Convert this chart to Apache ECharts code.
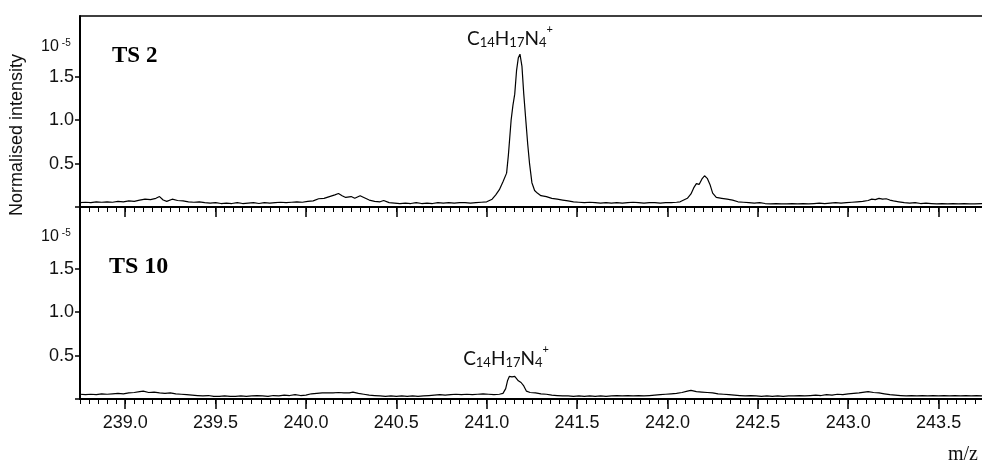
<!DOCTYPE html>
<html>
<head>
<title>ms-peaks</title>
<meta charset="utf-8">
<script type="text/javascript" src="https://cdn.jsdelivr.net/npm/echarts@6/dist/echarts.min.js"></script>
</head>
<body style="margin:0">
	<div id="main" style="width: 982px; height: 461px; margin: 0px"></div>
</body>
<script>
	// m/z range shown on the x axis
	var mzMin = 238.75;
	var mzMax = 243.74;
	var majorTicks = [239.0, 239.5, 240.0, 240.5, 241.0, 241.5, 242.0, 242.5, 243.0, 243.5];
	var yTicks = [0, 0.5, 1.0, 1.5];
	var yLabels = [0.5, 1.0, 1.5];
	var peakLabel = '{main|C}{sub|14}{main|H}{sub|17}{main|N}{sub|4}{sup|+}';

	// TS 2 spectrum: [m/z, intensity x1e-5]
	var ts2 = [
		[238.75,0.05],[238.78,0.055],[238.81,0.05],[238.84,0.06],[238.87,0.055],[238.90,0.06],[238.93,0.055],[238.96,0.065],
		[238.99,0.06],[239.02,0.07],[239.05,0.065],[239.08,0.08],[239.11,0.09],[239.14,0.085],[239.17,0.1],[239.19,0.12],
		[239.21,0.08],[239.23,0.065],[239.26,0.09],[239.29,0.075],[239.32,0.07],[239.35,0.06],[239.38,0.055],[239.41,0.06],
		[239.44,0.05],[239.47,0.045],[239.50,0.05],[239.53,0.04],[239.56,0.045],[239.59,0.04],[239.62,0.05],[239.65,0.04],
		[239.68,0.045],[239.71,0.05],[239.74,0.04],[239.77,0.05],[239.80,0.045],[239.83,0.05],[239.86,0.055],[239.89,0.05],
		[239.92,0.055],[239.95,0.06],[239.98,0.055],[240.01,0.065],[240.04,0.07],[240.07,0.095],[240.10,0.1],[240.13,0.12],
		[240.16,0.14],[240.18,0.155],[240.20,0.13],[240.22,0.11],[240.25,0.12],[240.27,0.1],[240.30,0.13],[240.32,0.11],
		[240.35,0.08],[240.38,0.065],[240.41,0.06],[240.43,0.075],[240.46,0.05],[240.49,0.045],[240.52,0.04],[240.55,0.045],
		[240.58,0.04],[240.61,0.05],[240.64,0.04],[240.67,0.045],[240.70,0.04],[240.73,0.05],[240.76,0.045],[240.79,0.05],
		[240.82,0.045],[240.85,0.05],[240.88,0.05],[240.91,0.045],[240.94,0.05],[240.97,0.055],[241.00,0.06],[241.03,0.09],
		[241.05,0.14],[241.07,0.2],[241.09,0.29],[241.11,0.39],[241.12,0.6],[241.135,1.0],[241.145,1.17],[241.155,1.3],
		[241.165,1.57],[241.175,1.72],[241.184,1.76],[241.195,1.62],[241.205,1.3],[241.217,0.98],[241.227,0.72],[241.237,0.5],
		[241.25,0.28],[241.265,0.19],[241.28,0.16],[241.30,0.13],[241.33,0.12],[241.36,0.1],[241.39,0.09],[241.42,0.08],
		[241.45,0.07],[241.48,0.06],[241.51,0.055],[241.54,0.05],[241.57,0.055],[241.60,0.05],[241.63,0.045],[241.66,0.05],
		[241.69,0.045],[241.72,0.05],[241.75,0.045],[241.78,0.05],[241.81,0.055],[241.84,0.05],[241.87,0.045],[241.90,0.05],
		[241.93,0.05],[241.96,0.045],[241.99,0.05],[242.02,0.05],[242.05,0.055],[242.07,0.06],[242.09,0.08],[242.11,0.1],
		[242.13,0.15],[242.145,0.22],[242.16,0.27],[242.175,0.26],[242.19,0.32],[242.205,0.36],[242.22,0.33],[242.235,0.26],
		[242.25,0.16],[242.27,0.11],[242.30,0.1],[242.33,0.09],[242.36,0.08],[242.39,0.06],[242.42,0.055],[242.45,0.05],
		[242.48,0.045],[242.51,0.05],[242.54,0.04],[242.57,0.035],[242.60,0.04],[242.63,0.035],[242.66,0.035],[242.69,0.04],
		[242.72,0.035],[242.75,0.04],[242.78,0.035],[242.81,0.04],[242.84,0.045],[242.87,0.04],[242.90,0.045],[242.93,0.05],
		[242.96,0.045],[242.99,0.05],[243.02,0.055],[243.05,0.06],[243.08,0.065],[243.11,0.075],[243.13,0.09],[243.15,0.085],
		[243.17,0.1],[243.19,0.09],[243.21,0.095],[243.23,0.08],[243.25,0.07],[243.28,0.06],[243.31,0.05],[243.34,0.045],
		[243.37,0.05],[243.40,0.04],[243.43,0.045],[243.46,0.04],[243.49,0.035],[243.52,0.04],[243.55,0.035],[243.58,0.04],
		[243.61,0.035],[243.64,0.04],[243.67,0.035],[243.70,0.035],[243.74,0.04]
	];

	// TS 10 spectrum
	var ts10 = [
		[238.75,0.055],[238.78,0.05],[238.81,0.055],[238.84,0.05],[238.87,0.06],[238.90,0.055],[238.93,0.06],[238.96,0.065],
		[238.99,0.06],[239.02,0.07],[239.05,0.075],[239.08,0.085],[239.10,0.09],[239.13,0.075],[239.16,0.08],[239.19,0.07],
		[239.22,0.065],[239.25,0.07],[239.28,0.06],[239.31,0.055],[239.34,0.05],[239.37,0.045],[239.40,0.04],[239.43,0.035],
		[239.46,0.04],[239.49,0.03],[239.52,0.03],[239.55,0.035],[239.58,0.03],[239.61,0.03],[239.64,0.035],[239.67,0.03],
		[239.70,0.035],[239.73,0.04],[239.76,0.035],[239.79,0.03],[239.82,0.04],[239.85,0.035],[239.88,0.045],[239.91,0.04],
		[239.94,0.05],[239.97,0.04],[240.00,0.045],[240.03,0.06],[240.06,0.065],[240.09,0.07],[240.12,0.07],[240.15,0.07],
		[240.18,0.075],[240.21,0.07],[240.24,0.07],[240.26,0.08],[240.29,0.065],[240.32,0.055],[240.35,0.045],[240.38,0.04],
		[240.41,0.035],[240.44,0.03],[240.47,0.035],[240.50,0.03],[240.53,0.035],[240.56,0.03],[240.59,0.035],[240.62,0.03],
		[240.65,0.035],[240.68,0.04],[240.71,0.045],[240.74,0.05],[240.77,0.045],[240.80,0.05],[240.83,0.055],[240.86,0.05],
		[240.89,0.055],[240.92,0.05],[240.95,0.055],[240.98,0.06],[241.01,0.055],[241.04,0.05],[241.07,0.055],[241.09,0.065],
		[241.105,0.12],[241.115,0.21],[241.125,0.26],[241.14,0.255],[241.155,0.26],[241.165,0.24],[241.175,0.21],[241.19,0.19],
		[241.205,0.15],[241.22,0.09],[241.24,0.075],[241.27,0.07],[241.30,0.06],[241.33,0.055],[241.36,0.045],[241.39,0.04],
		[241.42,0.035],[241.45,0.035],[241.48,0.03],[241.51,0.035],[241.54,0.03],[241.57,0.035],[241.60,0.03],[241.63,0.035],
		[241.66,0.03],[241.69,0.035],[241.72,0.04],[241.75,0.035],[241.78,0.04],[241.81,0.035],[241.84,0.04],[241.87,0.035],
		[241.90,0.04],[241.93,0.045],[241.96,0.05],[241.99,0.055],[242.02,0.06],[242.05,0.065],[242.08,0.075],[242.11,0.09],
		[242.13,0.1],[242.16,0.085],[242.19,0.08],[242.22,0.075],[242.25,0.07],[242.28,0.06],[242.31,0.055],[242.34,0.05],
		[242.37,0.045],[242.40,0.04],[242.43,0.035],[242.46,0.04],[242.49,0.035],[242.52,0.03],[242.55,0.035],[242.58,0.03],
		[242.61,0.035],[242.64,0.03],[242.67,0.035],[242.70,0.035],[242.73,0.04],[242.76,0.035],[242.79,0.04],[242.82,0.045],
		[242.85,0.04],[242.88,0.05],[242.91,0.045],[242.94,0.055],[242.97,0.05],[243.00,0.06],[243.03,0.065],[243.06,0.07],
		[243.09,0.08],[243.11,0.085],[243.14,0.075],[243.17,0.07],[243.20,0.06],[243.23,0.05],[243.26,0.045],[243.29,0.04],
		[243.32,0.035],[243.35,0.04],[243.38,0.035],[243.41,0.04],[243.44,0.035],[243.47,0.04],[243.50,0.035],[243.53,0.04],
		[243.56,0.035],[243.59,0.04],[243.62,0.035],[243.65,0.04],[243.68,0.035],[243.71,0.04],[243.74,0.035]
	];

	// peak positions for the formula labels
	var ts2Peak = [241.184, 1.76];
	var ts10Peak = [241.14, 0.26];

	// minor ticks every 0.05
	var minorTicks = [];
	for (var k = 0; k <= 100; k++) {
		var v = Math.round((238.75 + k * 0.05) * 100) / 100;
		if (v <= mzMax) minorTicks.push(v);
	}

	var tickFont = "'Liberation Sans Narrow', 'Liberation Sans', sans-serif";
	var formulaRich = {
		main: { fontFamily: 'Lato', fontSize: 19, color: '#111', lineHeight: 24, verticalAlign: 'bottom' },
		sub: { fontFamily: 'Lato', fontSize: 13, color: '#111', verticalAlign: 'bottom', padding: [0, 0, -1, 0] },
		sup: { fontFamily: 'Lato', fontSize: 11, color: '#111', verticalAlign: 'top' }
	};

	var chartDom = document.getElementById('main');
	var myChart = echarts.init(chartDom);

	function xAxisPair(gridIndex, withLabels) {
		return [
			{
				gridIndex: gridIndex, type: 'value', position: 'bottom', min: mzMin, max: mzMax,
				axisLine: { show: true, lineStyle: { color: '#000', width: 2 } },
				axisTick: { show: true, length: 10, customValues: majorTicks, lineStyle: { color: '#000', width: 1.5 } },
				axisLabel: {
					show: withLabels, customValues: majorTicks, margin: 15,
					fontFamily: tickFont, fontSize: 18, color: '#111',
					formatter: function (v) { return v.toFixed(1); }
				},
				splitLine: { show: false }
			},
			{
				gridIndex: gridIndex, type: 'value', position: 'bottom', min: mzMin, max: mzMax,
				axisLine: { show: false },
				axisTick: { show: true, length: 5, customValues: minorTicks, lineStyle: { color: '#000', width: 1 } },
				axisLabel: { show: false },
				splitLine: { show: false }
			}
		];
	}

	function yAxisFor(gridIndex) {
		return {
			gridIndex: gridIndex, type: 'value', min: 0, max: 2.2,
			axisLine: { show: true, lineStyle: { color: '#000', width: 2 } },
			axisTick: { show: true, length: 5, customValues: yTicks, lineStyle: { color: '#000', width: 1.5 } },
			axisLabel: {
				customValues: yLabels, margin: 6, fontFamily: tickFont, fontSize: 18, color: '#111',
				formatter: function (v) { return v.toFixed(1); }
			},
			splitLine: { show: false }
		};
	}

	var topBorder = {
		gridIndex: 0, type: 'value', position: 'top', min: mzMin, max: mzMax,
		axisLine: { show: true, lineStyle: { color: '#000', width: 1.5 } },
		axisTick: { show: false }, axisLabel: { show: false }, splitLine: { show: false }
	};

	var option = {
		animation: false,
		backgroundColor: '#fff',
		grid: [
			{ left: 80, right: 0, top: 16, height: 191 },
			{ left: 80, right: 0, top: 208, height: 191 }
		],
		title: [
			{ text: 'TS 2', left: 107, top: 40, textStyle: { fontFamily: "'Liberation Serif', serif", fontWeight: 'bold', fontSize: 23, color: '#000' } },
			{ text: 'TS 10', left: 104, top: 250, textStyle: { fontFamily: "'Liberation Serif', serif", fontWeight: 'bold', fontSize: 24, color: '#000' } }
		],
		xAxis: xAxisPair(0, false).concat([topBorder]).concat(xAxisPair(1, true)),
		yAxis: [yAxisFor(0), yAxisFor(1)],
		series: [
			{
				type: 'line', xAxisIndex: 0, yAxisIndex: 0, data: ts2, showSymbol: false,
				lineStyle: { color: '#000', width: 1.2 },
				markPoint: {
					symbol: 'circle', symbolSize: 0, silent: true,
					data: [{ coord: ts2Peak }],
					label: { show: true, position: 'top', distance: 6, offset: [-10, 0], formatter: peakLabel, rich: formulaRich }
				}
			},
			{
				type: 'line', xAxisIndex: 3, yAxisIndex: 1, data: ts10, showSymbol: false,
				lineStyle: { color: '#000', width: 1.2 },
				markPoint: {
					symbol: 'circle', symbolSize: 0, silent: true,
					data: [{ coord: ts10Peak }],
					label: { show: true, position: 'top', distance: 8, offset: [-6, 0], formatter: peakLabel, rich: formulaRich }
				}
			}
		],
		graphic: [
			{
				type: 'text', x: 17, y: 135, rotation: Math.PI / 2,
				style: { text: 'Normalised intensity', fontFamily: "'Liberation Sans', sans-serif", fontSize: 18, fill: '#111', align: 'center', verticalAlign: 'middle' }
			},
			{
				type: 'text', x: 41, y: 38,
				style: { text: '10{s|-5}', fontFamily: "'Liberation Sans Narrow', 'Liberation Sans', sans-serif", fontSize: 16, fill: '#111', rich: { s: { fontSize: 10, verticalAlign: 'top', padding: [0, 0, 8, 3] } } }
			},
			{
				type: 'text', x: 41, y: 228,
				style: { text: '10{s|-5}', fontFamily: "'Liberation Sans Narrow', 'Liberation Sans', sans-serif", fontSize: 16, fill: '#111', rich: { s: { fontSize: 10, verticalAlign: 'top', padding: [0, 0, 8, 3] } } }
			},
			{
				type: 'text', right: 4, top: 445,
				style: { text: 'm/z', fontFamily: "'Liberation Serif', serif", fontSize: 20, fill: '#111' }
			}
		]
	};
	myChart.setOption(option);
</script>
</html>
